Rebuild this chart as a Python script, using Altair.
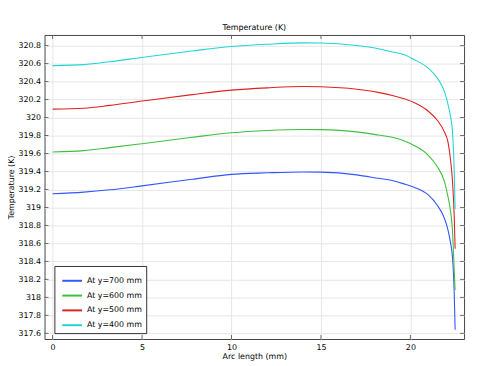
import altair as alt
import pandas as pd

arc_mm = [0, 1.75, 3.2, 5, 7.8, 10, 12, 14, 15, 17, 18.2, 19.1, 19.7, 20.2, 21, 21.5, 21.9, 22.1, 22.25, 22.35, 22.45, 22.5]

t_700 = [319.152, 319.17, 319.196, 319.24, 319.313, 319.368, 319.385, 319.395, 319.393, 319.362, 319.324, 319.295,
         319.258, 319.225, 319.14, 319.025, 318.88, 318.75, 318.6, 318.45, 318.05, 317.64]
t_600 = [319.617, 319.632, 319.665, 319.709, 319.78, 319.83, 319.855, 319.867, 319.865, 319.84, 319.805, 319.775,
         319.735, 319.69, 319.58, 319.455, 319.29, 319.12, 318.95, 318.75, 318.3, 318.08]
t_500 = [320.093, 320.103, 320.135, 320.183, 320.255, 320.305, 320.33, 320.345, 320.342, 320.315, 320.28, 320.24,
         320.205, 320.166, 320.07, 319.97, 319.84, 319.73, 319.52, 319.3, 318.9, 318.54]
t_400 = [320.577, 320.588, 320.62, 320.668, 320.74, 320.79, 320.815, 320.83, 320.828, 320.80, 320.765, 320.725,
         320.695, 320.645, 320.55, 320.44, 320.29, 320.15, 320.0, 319.85, 319.4, 318.98]

series_names = ["At y=700 mm", "At y=600 mm", "At y=500 mm", "At y=400 mm"]
series_colors = ["#3355ff", "#3fbf3f", "#dd2222", "#22d6d6"]

x_ticks = [0, 5, 10, 15, 20]
y_ticks = [317.6, 317.8, 318.0, 318.2, 318.4, 318.6, 318.8, 319.0, 319.2, 319.4, 319.6, 319.8,
           320.0, 320.2, 320.4, 320.6, 320.8]

x_domain = [-0.45, 23.0]
y_domain = [317.537, 320.918]

rows = []
for name, vals in zip(series_names, [t_700, t_600, t_500, t_400]):
    for i, (x, t) in enumerate(zip(arc_mm, vals)):
        rows.append({"arc": x, "T": t, "series": name, "idx": i})
df = pd.DataFrame(rows)

W, H = 425, 308
xs = alt.Scale(domain=x_domain, nice=False, zero=False)
ys = alt.Scale(domain=y_domain, nice=False, zero=False)

x_axis = alt.Axis(values=x_ticks, tickCount=len(x_ticks), title="Arc length (mm)", grid=True, tickSize=0,
                  labelPadding=5, titlePadding=1, domain=False, labelOverlap=False, labelFlush=False)
y_axis = alt.Axis(values=y_ticks, tickCount=len(y_ticks), title="Temperature (K)", grid=True, tickSize=0,
                  format="~g", labelPadding=4, titlePadding=3, domain=False,
                  labelOverlap=False, labelFlush=False)

lines = alt.Chart(df).mark_line(strokeWidth=1.1, clip=True, interpolate="monotone").encode(
    x=alt.X("arc:Q", scale=xs, axis=x_axis),
    y=alt.Y("T:Q", scale=ys, axis=y_axis),
    color=alt.Color("series:N", scale=alt.Scale(domain=series_names, range=series_colors),
                    legend=alt.Legend(title=None, orient="none", legendX=10, legendY=234,
                                      symbolType="stroke", symbolSize=400, symbolStrokeWidth=2,
                                      symbolOffset=3,
                                      labelFontSize=8, rowPadding=-7, padding=4,
                                      strokeColor="#333333", fillColor="white",
                                      labelLimit=200)),
    order="idx:Q",
)

xt_df = pd.DataFrame({"x": x_ticks})
yt_df = pd.DataFrame({"y": y_ticks})
tick_color = "#333333"

xt_bottom = alt.Chart(xt_df).mark_tick(orient="vertical", size=4, thickness=1, color=tick_color).encode(
    x=alt.X("x:Q", scale=xs, axis=x_axis), y=alt.value(H - 2))
xt_top = alt.Chart(xt_df).mark_tick(orient="vertical", size=4, thickness=1, color=tick_color).encode(
    x=alt.X("x:Q", scale=xs, axis=x_axis), y=alt.value(2))
yt_left = alt.Chart(yt_df).mark_tick(orient="horizontal", size=4, thickness=1, color=tick_color).encode(
    y=alt.Y("y:Q", scale=ys, axis=y_axis), x=alt.value(2))
yt_right = alt.Chart(yt_df).mark_tick(orient="horizontal", size=4, thickness=1, color=tick_color).encode(
    y=alt.Y("y:Q", scale=ys, axis=y_axis), x=alt.value(W - 2))

chart = alt.layer(lines, xt_bottom, xt_top, yt_left, yt_right).properties(
    width=W, height=H,
    title=alt.Title("Temperature (K)", fontSize=8, fontWeight="normal", font="DejaVu Sans", offset=3,
                    color="#000000"),
    autosize=alt.AutoSizeParams(type="none"),
    padding={"left": 37, "top": 25, "right": 5, "bottom": 24},
).configure_view(stroke="#444444", strokeWidth=1).configure_axis(
    labelFont="DejaVu Sans", titleFont="DejaVu Sans", labelFontSize=8, titleFontSize=8,
    titleFontWeight="normal", labelColor="#000000", titleColor="#000000",
    gridColor="#e6e6e6", gridWidth=1,
).configure_legend(labelFont="DejaVu Sans", labelColor="#000000")

chart.save("out.html", embed_options={"renderer": "svg", "actions": False})
